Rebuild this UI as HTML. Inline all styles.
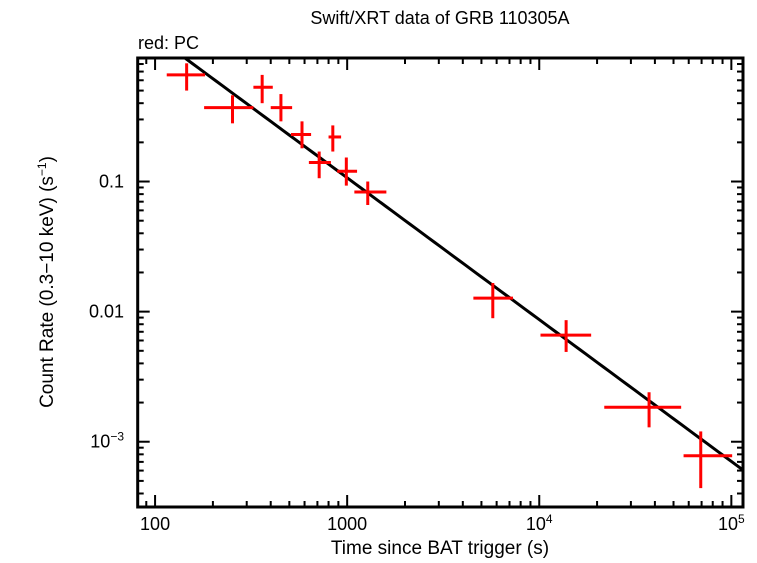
<!DOCTYPE html>
<html><head><meta charset="utf-8"><style>
html,body{margin:0;padding:0;background:#fff;}
svg text{font-family:"Liberation Sans",sans-serif;fill:#000;}
</style></head><body>
<svg id="c" width="757" height="558" xmlns="http://www.w3.org/2000/svg">
<text x="440" y="24" font-size="18" text-anchor="middle">Swift/XRT data of GRB 110305A</text>
<text x="138" y="49" font-size="18">red: PC</text>
<text x="440" y="554" font-size="19" text-anchor="middle">Time since BAT trigger (s)</text>
<text transform="translate(53,282) rotate(-90)" font-size="19" text-anchor="middle">Count Rate (0.3−10 keV) (s<tspan font-size="12" dy="-7">−1</tspan><tspan dy="7">)</tspan></text>
<g id="ticks"></g>
<g id="marks"></g>
<rect x="137.7" y="58" width="605.3" height="449" fill="none" stroke="#000" stroke-width="3"/>
</svg>
<script>
const times = [146,253,361,452,582,842,715,990,1280,5730,13800,37300,69300];
const tLo = [115,180,325,400,510,800,632,887,1090,4540,10150,21800,56400];
const tHi = [182,325,410,517,649,930,823,1126,1600,7300,18630,54800,101000];
const rates = [0.66,0.37,0.53,0.37,0.23,0.22,0.14,0.12,0.083,0.0127,0.0066,0.00184,0.00078];
const rLo = [0.50,0.28,0.40,0.29,0.18,0.17,0.106,0.093,0.066,0.0089,0.0049,0.00129,0.00044];
const rHi = [0.81,0.46,0.66,0.47,0.29,0.27,0.17,0.153,0.10,0.0166,0.0086,0.0024,0.00120];
const fitNorm = [0.89];
const fitT0 = [143];
const fitIndex = [1.09];
const xTickVals = [100,1000,10000,100000];
const xTickLabels = [["100",""],["1000",""],["10","4"],["10","5"]];
const yTickVals = [0.1,0.01,0.001];
const yTickLabels = [["0.1",""],["0.01",""],["10","−3"]];

const L=137.7,R=743,T=58,B=507;
const xmin=Math.log10(81.2), xmax=Math.log10(115000);
const ymin=Math.log10(0.000315), ymax=Math.log10(0.89);
const X=t=>L+(Math.log10(t)-xmin)/(xmax-xmin)*(R-L);
const Y=r=>B-(Math.log10(r)-ymin)/(ymax-ymin)*(B-T);
const NS="http://www.w3.org/2000/svg";
function mk(tag,attrs,parent){const e=document.createElementNS(NS,tag);for(const k in attrs)e.setAttribute(k,attrs[k]);parent.appendChild(e);return e;}
const tg=document.getElementById('ticks'), mg=document.getElementById('marks');
for(let d=1;d<=5;d++){for(let m=1;m<10;m++){const t=m*Math.pow(10,d);const x=X(t);if(x<L||x>R)continue;const len=m===1?12:6;
 let a=mk('line',{x1:x,x2:x,y1:B,y2:B-len,stroke:'#000','stroke-width':2},tg);
 
 
 let b=mk('line',{x1:x,x2:x,y1:T,y2:T+len,stroke:'#000','stroke-width':2},tg);
 
 }}
for(let d=-4;d<=0;d++){for(let m=1;m<10;m++){const r=m*Math.pow(10,d);const y=Y(r);if(y<T||y>B)continue;const len=m===1?12:6;
 let a=mk('line',{x1:L,x2:L+len,y1:y,y2:y,stroke:'#000','stroke-width':2},tg);
 
 
 let b=mk('line',{x1:R,x2:R-len,y1:y,y2:y,stroke:'#000','stroke-width':2},tg);
 
 }}
xTickVals.forEach((v,i)=>{const t=mk('text',{x:X(v),y:530,'font-size':18,'text-anchor':'middle'},tg);
 
 
 t.textContent=xTickLabels[i][0];if(xTickLabels[i][1]){const s=mk('tspan',{'font-size':12,dy:-7},t);s.textContent=xTickLabels[i][1];}});
yTickVals.forEach((v,i)=>{const t=mk('text',{x:124,y:Y(v)+6,'font-size':18,'text-anchor':'end'},tg);
 
 
 t.textContent=yTickLabels[i][0];if(yTickLabels[i][1]){const s=mk('tspan',{'font-size':12,dy:-7},t);s.textContent=yTickLabels[i][1];}});
const pts=[];for(let k=0;k<=100;k++){const lt=xmin+(xmax-xmin)*k/100;const t=Math.pow(10,lt);const r=fitNorm[0]*Math.pow(t/fitT0[0],-fitIndex[0]);pts.push([X(t),Y(r)]);}
const cp=mk('clipPath',{id:'clip'},mg);mk('rect',{x:L,y:T,width:R-L,height:B-T},cp);
const fl=mk('polyline',{points:pts.map(p=>p.join(',')).join(' '),fill:'none',stroke:'#000','stroke-width':3,'clip-path':'url(#clip)'},mg);


times.forEach((t,i)=>{const g=mk('g',{},mg);
 
 
 mk('line',{x1:X(tLo[i]),x2:X(tHi[i]),y1:Y(rates[i]),y2:Y(rates[i]),stroke:'#f00','stroke-width':3},g);
 mk('line',{x1:X(t),x2:X(t),y1:Y(rLo[i]),y2:Y(rHi[i]),stroke:'#f00','stroke-width':3},g);});
</script>
</body></html>
